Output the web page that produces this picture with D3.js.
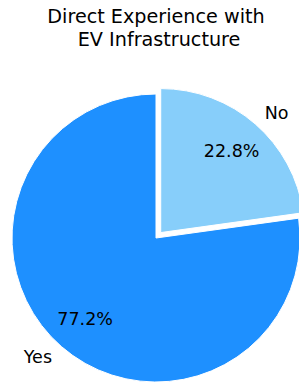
<!DOCTYPE html>
<html>
<head>
<meta charset="utf-8">
<script src="https://cdn.jsdelivr.net/npm/d3@7"></script>
<style>
  html, body { margin: 0; padding: 0; background: #fff; }
  svg { display: block; }
  text { font-family: "DejaVu Sans", sans-serif; fill: #000; }
</style>
</head>
<body>
<svg id="chart" width="299" height="383"></svg>
<script>
const categories = ["Yes", "No"];
const values = [77.2, 22.8];
const colors = ["#1E90FF", "#87CEFA"];
const explode = [0, 0.05];
const titleLines = ["Direct Experience with", " EV Infrastructure"];

const svg = d3.select("#chart");
const cx = 156, cy = 238, r = 144;

const pie = d3.pie().sort(null).value(d => d.v).startAngle(0).endAngle(-2 * Math.PI);
const data = categories.map((c, i) => ({ c, v: values[i], col: colors[i], ex: explode[i] }));
const arcs = pie(data);
const arc = d3.arc().innerRadius(0).outerRadius(r);

const g = svg.append("g").attr("transform", `translate(${cx},${cy})`);

arcs.forEach(a => {
  const mid = (a.startAngle + a.endAngle) / 2;
  const off = a.data.ex * r;
  const ox = Math.sin(mid) * off, oy = -Math.cos(mid) * off;
  const wg = g.append("g").attr("transform", `translate(${ox},${oy})`);
  wg.append("path")
    .attr("d", arc(a))
    .attr("fill", a.data.col)
    .attr("stroke", "#fff")
    .attr("stroke-width", 1);
  // outer label
  const lx = Math.sin(mid) * r * 1.1, ly = -Math.cos(mid) * r * 1.1;
  wg.append("text")
    .attr("x", lx).attr("y", ly)
    .attr("text-anchor", lx > 0 ? "start" : "end")
    .attr("dominant-baseline", "central")
    .attr("font-size", "17.5px")
    .text(a.data.c);
  // percent label
  const px = Math.sin(mid) * r * 0.75, py = -Math.cos(mid) * r * 0.75;
  wg.append("text")
    .attr("x", px).attr("y", py)
    .attr("text-anchor", "middle")
    .attr("dominant-baseline", "central")
    .attr("font-size", "17.5px")
    .text(d3.format(".1f")(a.data.v) + "%");
});

const title = svg.append("text")
  .attr("text-anchor", "middle")
  .attr("font-size", "19.2px")
  .attr("xml:space", "preserve")
  .style("white-space", "pre");
titleLines.forEach((t, i) => {
  title.append("tspan").attr("x", 156).attr("y", 23 + i * 22.6).text(t);
});
</script>
</body>
</html>
